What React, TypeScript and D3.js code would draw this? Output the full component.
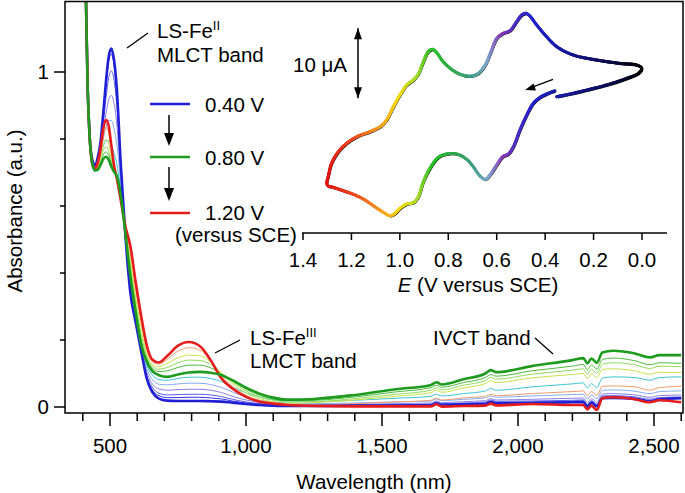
import React, { useEffect, useRef } from "react";
import * as d3 from "d3";

// ---------- Spectra data ----------
const wavelengths = [405, 412, 418, 425, 435, 445, 455, 465, 475, 485, 495, 505, 515, 525, 540, 555, 575, 595, 615, 635, 655, 680, 710, 750, 790, 830, 870, 910, 950, 1000, 1050, 1100, 1150, 1250, 1400, 1550, 1680, 1700, 1720, 1800, 1880, 1900, 1920, 2050, 2200, 2240, 2255, 2270, 2290, 2310, 2350, 2430, 2485, 2520, 2600];

const absB0 = [1.5, 1.2, 0.95, 0.81, 0.738, 0.722, 0.745, 0.79, 0.875, 0.97, 1.045, 1.07, 1.035, 0.95, 0.72, 0.53, 0.34, 0.25, 0.165, 0.085, 0.045, 0.025, 0.019, 0.018, 0.018, 0.018, 0.017, 0.016, 0.013, 0.009, 0.006, 0.004, 0.003, 0.003, 0.004, 0.004, 0.005, 0.011, 0.006, 0.008, 0.009, 0.015, 0.011, 0.012, 0.014, 0.015, 0.001, 0.013, 0.002, 0.026, 0.027, 0.024, 0.016, 0.022, 0.026];
const absB1 = [1.5, 1.2, 0.95, 0.81, 0.736, 0.72, 0.742, 0.785, 0.865, 0.955, 1.03, 1.053, 1.02, 0.935, 0.715, 0.53, 0.345, 0.252, 0.168, 0.09, 0.052, 0.034, 0.028, 0.028, 0.029, 0.029, 0.027, 0.024, 0.018, 0.012, 0.008, 0.005, 0.004, 0.004, 0.005, 0.006, 0.007, 0.013, 0.008, 0.01, 0.012, 0.018, 0.014, 0.015, 0.017, 0.018, 0.004, 0.016, 0.005, 0.03, 0.031, 0.027, 0.02, 0.026, 0.028];
const absB2 = [1.5, 1.2, 0.95, 0.81, 0.734, 0.718, 0.738, 0.775, 0.845, 0.92, 0.982, 1.003, 0.975, 0.9, 0.7, 0.53, 0.35, 0.256, 0.172, 0.096, 0.06, 0.041, 0.036, 0.037, 0.038, 0.038, 0.036, 0.031, 0.023, 0.015, 0.01, 0.007, 0.005, 0.005, 0.006, 0.007, 0.009, 0.015, 0.01, 0.012, 0.015, 0.021, 0.017, 0.018, 0.02, 0.021, 0.007, 0.019, 0.008, 0.033, 0.034, 0.03, 0.023, 0.028, 0.03];
const absB3 = [1.5, 1.2, 0.95, 0.81, 0.732, 0.716, 0.733, 0.765, 0.82, 0.875, 0.917, 0.93, 0.905, 0.845, 0.68, 0.53, 0.356, 0.26, 0.176, 0.105, 0.07, 0.054, 0.05, 0.052, 0.053, 0.053, 0.05, 0.043, 0.032, 0.021, 0.014, 0.01, 0.008, 0.007, 0.008, 0.01, 0.012, 0.018, 0.013, 0.016, 0.019, 0.025, 0.021, 0.023, 0.026, 0.027, 0.013, 0.025, 0.014, 0.039, 0.04, 0.036, 0.029, 0.034, 0.036];
const absB4 = [1.5, 1.2, 0.95, 0.81, 0.73, 0.714, 0.73, 0.758, 0.8, 0.835, 0.855, 0.855, 0.83, 0.785, 0.66, 0.53, 0.365, 0.266, 0.18, 0.115, 0.083, 0.068, 0.066, 0.069, 0.071, 0.071, 0.067, 0.058, 0.045, 0.03, 0.02, 0.015, 0.012, 0.01, 0.012, 0.015, 0.018, 0.024, 0.019, 0.023, 0.027, 0.033, 0.029, 0.033, 0.037, 0.038, 0.024, 0.036, 0.025, 0.05, 0.051, 0.047, 0.04, 0.046, 0.048];
const absB5 = [1.5, 1.2, 0.95, 0.81, 0.728, 0.71, 0.722, 0.748, 0.778, 0.795, 0.795, 0.782, 0.757, 0.725, 0.645, 0.53, 0.377, 0.272, 0.183, 0.125, 0.096, 0.082, 0.08, 0.085, 0.089, 0.089, 0.085, 0.076, 0.06, 0.042, 0.03, 0.022, 0.018, 0.016, 0.02, 0.026, 0.032, 0.038, 0.033, 0.04, 0.048, 0.055, 0.05, 0.06, 0.069, 0.072, 0.057, 0.07, 0.058, 0.086, 0.09, 0.088, 0.08, 0.088, 0.09];
const absG = [1.5, 1.2, 0.95, 0.81, 0.725, 0.706, 0.708, 0.722, 0.74, 0.747, 0.738, 0.718, 0.702, 0.69, 0.63, 0.53, 0.39, 0.28, 0.185, 0.135, 0.108, 0.095, 0.09, 0.097, 0.103, 0.105, 0.102, 0.095, 0.08, 0.058, 0.04, 0.028, 0.022, 0.024, 0.036, 0.053, 0.066, 0.074, 0.067, 0.083, 0.1, 0.11, 0.104, 0.122, 0.14, 0.146, 0.13, 0.145, 0.132, 0.163, 0.168, 0.16, 0.148, 0.155, 0.155];
const absG1 = [1.5, 1.2, 0.95, 0.81, 0.727, 0.708, 0.712, 0.73, 0.752, 0.762, 0.752, 0.728, 0.707, 0.69, 0.632, 0.533, 0.405, 0.295, 0.2, 0.145, 0.116, 0.106, 0.108, 0.118, 0.125, 0.125, 0.117, 0.1, 0.078, 0.053, 0.035, 0.024, 0.019, 0.02, 0.03, 0.045, 0.058, 0.065, 0.059, 0.073, 0.088, 0.097, 0.092, 0.108, 0.122, 0.127, 0.111, 0.126, 0.113, 0.142, 0.146, 0.138, 0.126, 0.132, 0.13];
const absG2 = [1.5, 1.2, 0.95, 0.81, 0.728, 0.71, 0.715, 0.738, 0.765, 0.777, 0.765, 0.737, 0.712, 0.69, 0.632, 0.536, 0.425, 0.31, 0.215, 0.152, 0.122, 0.113, 0.118, 0.132, 0.14, 0.139, 0.127, 0.101, 0.075, 0.048, 0.03, 0.02, 0.015, 0.016, 0.025, 0.038, 0.05, 0.057, 0.051, 0.065, 0.079, 0.088, 0.083, 0.098, 0.11, 0.114, 0.098, 0.113, 0.1, 0.128, 0.132, 0.126, 0.115, 0.122, 0.12];
const absG3 = [1.5, 1.2, 0.95, 0.81, 0.729, 0.712, 0.718, 0.745, 0.78, 0.8, 0.787, 0.75, 0.716, 0.69, 0.628, 0.54, 0.44, 0.325, 0.235, 0.16, 0.128, 0.12, 0.13, 0.147, 0.155, 0.153, 0.135, 0.1, 0.07, 0.042, 0.025, 0.015, 0.011, 0.013, 0.021, 0.032, 0.043, 0.05, 0.044, 0.057, 0.07, 0.078, 0.073, 0.087, 0.097, 0.1, 0.085, 0.099, 0.087, 0.112, 0.114, 0.108, 0.098, 0.104, 0.103];
const absO = [1.5, 1.2, 0.95, 0.81, 0.73, 0.713, 0.72, 0.752, 0.805, 0.835, 0.82, 0.77, 0.72, 0.685, 0.622, 0.542, 0.465, 0.35, 0.255, 0.172, 0.136, 0.128, 0.142, 0.167, 0.177, 0.17, 0.138, 0.092, 0.062, 0.035, 0.02, 0.012, 0.008, 0.006, 0.01, 0.015, 0.02, 0.026, 0.021, 0.027, 0.032, 0.038, 0.034, 0.04, 0.046, 0.048, 0.034, 0.046, 0.035, 0.062, 0.063, 0.06, 0.05, 0.058, 0.062];
const absR = [1.5, 1.2, 0.95, 0.81, 0.725, 0.71, 0.73, 0.77, 0.83, 0.857, 0.84, 0.78, 0.72, 0.683, 0.615, 0.545, 0.48, 0.37, 0.27, 0.185, 0.142, 0.133, 0.152, 0.183, 0.194, 0.182, 0.14, 0.085, 0.055, 0.03, 0.016, 0.01, 0.006, 0.003, 0.002, 0.002, 0.002, 0.008, 0.001, 0.003, 0.004, 0.01, 0.005, 0.009, 0.006, 0.006, -0.007, 0.004, -0.009, 0.026, 0.029, 0.023, 0.014, 0.02, 0.014];

const xTickValues = [500, 1000, 1500, 2000, 2500];
const xMinorValues = [400, 500, 600, 700, 800, 900, 1000, 1100, 1200, 1300, 1400, 1500, 1600, 1700, 1800, 1900, 2000, 2100, 2200, 2300, 2400, 2500, 2600];
const yTickValues = [0, 1];
const yMinorValues = [0, 0.2, 0.4, 0.6, 0.8, 1.0];

const legendLabels = ["0.40 V", "0.80 V", "1.20 V"];

// ---------- CV inset data ----------
const cvE = [0.359, 0.394, 0.421, 0.449, 0.476, 0.504, 0.531, 0.552, 0.575, 0.6, 0.628, 0.648, 0.669, 0.697, 0.724, 0.765, 0.807, 0.841, 0.876, 0.903, 0.924, 0.945, 0.972, 1.0, 1.02, 1.041, 1.068, 1.11, 1.151, 1.192, 1.234, 1.275, 1.296, 1.302, 1.296, 1.282, 1.254, 1.22, 1.178, 1.124, 1.082, 1.055, 1.027, 1.0, 0.972, 0.945, 0.924, 0.903, 0.883, 0.865, 0.848, 0.821, 0.779, 0.738, 0.703, 0.676, 0.648, 0.621, 0.6, 0.573, 0.545, 0.518, 0.497, 0.479, 0.463, 0.435, 0.394, 0.352, 0.284, 0.187, 0.091, 0.022, 0.001, 0.015, 0.063, 0.146, 0.228, 0.297, 0.352];
const cvI = [8.47, 8.0, 7.52, 6.67, 5.0, 2.86, 0.48, -0.57, -0.95, -2.14, -3.57, -4.19, -3.71, -2.38, -1.33, -0.57, -0.57, -1.05, -2.62, -4.52, -6.67, -7.52, -7.71, -8.33, -9.05, -9.38, -8.9, -7.95, -7.0, -6.33, -5.81, -5.33, -5.14, -4.76, -3.81, -1.9, -0.24, 0.95, 1.9, 2.62, 3.33, 4.29, 6.19, 7.86, 9.29, 10.0, 10.86, 12.62, 14.05, 14.38, 13.9, 12.62, 11.33, 10.67, 10.57, 10.95, 12.14, 14.29, 15.95, 16.67, 17.05, 18.33, 19.29, 19.52, 19.14, 17.86, 16.19, 14.76, 13.57, 12.86, 12.38, 12.14, 11.67, 10.95, 10.24, 9.29, 8.57, 8.0, 7.62];
const cvTickValues = [1.4, 1.2, 1.0, 0.8, 0.6, 0.4, 0.2, 0.0];
const cvColorStops = [0.0, 0.15, 0.35, 0.45, 0.52, 0.58, 0.64, 0.7, 0.78, 0.87, 0.93, 1.0, 1.08, 1.18, 1.3];
const cvColors = ["#000000", "#0d0d55", "#1a1aa8", "#2222cc", "#4a2ec0", "#8a3ab8", "#7fa8cc", "#40a08a", "#2ea84a", "#28c028", "#a8dc28", "#f2dc10", "#f4a020", "#ee5020", "#e21414"];

// ---------- styles ----------
const FONT = "'Liberation Sans', Arial, Helvetica, sans-serif";
const thinSeries = [
  { data: absB1, color: "#3333dd" },
  { data: absB2, color: "#5b5be8" },
  { data: absB3, color: "#8a7ee8" },
  { data: absB4, color: "#86aaf0" },
  { data: absB5, color: "#3cc6d6" },
  { data: absG1, color: "#4dbb3c" },
  { data: absG2, color: "#90dd5a" },
  { data: absG3, color: "#c9e24a" },
  { data: absO, color: "#f09a68" },
];
const thickSeries = [
  { data: absB0, color: "#1f1fd6" },
  { data: absR, color: "#e51c1c" },
  { data: absG, color: "#1e9a1e" },
];

const x = d3.scaleLinear().domain([500, 2500]).range([110, 654]);
const y = d3.scaleLinear().domain([0, 1]).range([407, 72]);
const PL = 65, PR = 683, PT = 1.5, PB = 413;

const eScale = d3.scaleLinear().domain([1.4, 0]).range([303, 642]);
const iScale = d3.scaleLinear().domain([0, 10]).range([150, 80]);
const cvColor = d3.scaleLinear<string>().domain(cvColorStops).range(cvColors).interpolate(d3.interpolateRgb).clamp(true);

const lineGen = d3
  .line<number>()
  .x((_, i) => x(wavelengths[i]))
  .y((d) => y(d))
  .curve(d3.curveMonotoneX);

function CVCurve() {
  const gRef = useRef<SVGGElement>(null);
  useEffect(() => {
    const g = d3.select(gRef.current);
    g.selectAll("*").remove();
    const pts = cvE.map((e, i) => [eScale(e), iScale(cvI[i])] as [number, number]);
    const d = d3.line().curve(d3.curveCatmullRom.alpha(0.5))(pts) as string;
    const shadow = g
      .append("path")
      .attr("d", d)
      .attr("fill", "none")
      .attr("stroke", "#000")
      .attr("stroke-width", 1.3)
      .attr("transform", "translate(0.9,1.2)");
    const node = shadow.node() as SVGPathElement;
    const L = node.getTotalLength();
    const step = 1;
    let prev = node.getPointAtLength(0);
    for (let s = step; s <= L + step; s += step) {
      const p = node.getPointAtLength(Math.min(s, L));
      g.append("line")
        .attr("x1", prev.x)
        .attr("y1", prev.y)
        .attr("x2", p.x)
        .attr("y2", p.y)
        .attr("stroke", cvColor(eScale.invert((prev.x + p.x) / 2)))
        .attr("stroke-width", 3)
        .attr("stroke-linecap", "round");
      prev = p;
    }
  }, []);
  return <g ref={gRef} />;
}

function DownArrow({ cx, y1, y2 }: { cx: number; y1: number; y2: number }) {
  const hh = 13;
  return (
    <g>
      <line x1={cx} y1={y1} x2={cx} y2={y2 - hh + 1} stroke="#000" strokeWidth={1.5} />
      <polygon points={`${cx - 5},${y2 - hh} ${cx + 5},${y2 - hh} ${cx},${y2}`} fill="#000" />
    </g>
  );
}

export default function App() {
  const fs = 20.5;
  const sup = 13;
  return (
    <svg
      width={685}
      height={493}
      style={{ position: "absolute", left: 0, top: 0, background: "#fff" }}
      fontFamily={FONT}
    >
      <defs>
        <clipPath id="plotClip">
          <rect x={PL} y={PT} width={PR - PL} height={PB - PT} />
        </clipPath>
      </defs>
      <rect x={0} y={0} width={685} height={493} fill="#fff" />

      {/* spectra */}
      <g clipPath="url(#plotClip)" fill="none">
        {thinSeries.map((s, i) => (
          <path key={"t" + i} d={lineGen(s.data) as string} stroke={s.color} strokeWidth={1} />
        ))}
        {thickSeries.map((s, i) => (
          <path key={"k" + i} d={lineGen(s.data) as string} stroke={s.color} strokeWidth={2.6} strokeLinejoin="round" />
        ))}
      </g>

      {/* frame */}
      <rect x={PL} y={PT} width={PR - PL} height={PB - PT} fill="none" stroke="#000" strokeWidth={1.5} />

      {/* x ticks */}
      {xMinorValues.map((v) => (
        <line key={"xm" + v} x1={x(v)} x2={x(v)} y1={PB} y2={PB + (xTickValues.includes(v) ? 13 : 8)} stroke="#000" strokeWidth={1.5} />
      ))}
      {xTickValues.map((v) => (
        <text key={"xl" + v} x={x(v)} y={453} textAnchor="middle" fontSize={fs}>
          {d3.format(",")(v)}
        </text>
      ))}
      <text x={374} y={489} textAnchor="middle" fontSize={fs}>
        Wavelength (nm)
      </text>

      {/* y ticks */}
      {yMinorValues.map((v) => (
        <line key={"ym" + v} x1={PL} x2={PL - (yTickValues.includes(v) ? 11 : 5)} y1={y(v)} y2={y(v)} stroke="#000" strokeWidth={1.5} />
      ))}
      {yTickValues.map((v) => (
        <text key={"yl" + v} x={49} y={y(v) + 7} textAnchor="end" fontSize={fs}>
          {v}
        </text>
      ))}
      <text transform="translate(21.5,211) rotate(-90)" textAnchor="middle" fontSize={fs}>
        Absorbance (a.u.)
      </text>

      {/* legend */}
      <line x1={150} x2={190} y1={104} y2={104} stroke="#1f1fd6" strokeWidth={2.6} />
      <text x={205} y={111.5} fontSize={fs}>{legendLabels[0]}</text>
      <DownArrow cx={169} y1={115} y2={146} />
      <line x1={150} x2={190} y1={157} y2={157} stroke="#1e9a1e" strokeWidth={2.6} />
      <text x={205} y={165} fontSize={fs}>{legendLabels[1]}</text>
      <DownArrow cx={169} y1={167} y2={201} />
      <line x1={150} x2={190} y1={213} y2={213} stroke="#e51c1c" strokeWidth={2.6} />
      <text x={205} y={220} fontSize={fs}>{legendLabels[2]}</text>
      <text x={175} y={242} fontSize={fs}>(versus SCE)</text>

      {/* annotations */}
      <line x1={127} y1={48} x2={148} y2={33} stroke="#000" strokeWidth={1.3} />
      <text x={157} y={38.3} fontSize={fs}>
        LS-Fe<tspan fontSize={sup} dy={-8}>II</tspan>
      </text>
      <text x={157} y={61.5} fontSize={fs}>MLCT band</text>

      <line x1={215} y1={353} x2={240} y2={340} stroke="#000" strokeWidth={1.3} />
      <text x={250} y={345} fontSize={fs}>
        LS-Fe<tspan fontSize={sup} dy={-8}>III</tspan>
      </text>
      <text x={250} y={368} fontSize={fs}>LMCT band</text>

      <line x1={535} y1={338} x2={553} y2={354} stroke="#000" strokeWidth={1.3} />
      <text x={433} y={345} fontSize={fs}>IVCT band</text>

      {/* CV inset */}
      <line x1={302} x2={667} y1={233} y2={233} stroke="#000" strokeWidth={1.5} />
      {cvTickValues.map((v) => (
        <line key={"ct" + v} x1={eScale(v)} x2={eScale(v)} y1={233} y2={240} stroke="#000" strokeWidth={1.5} />
      ))}
      {cvTickValues.map((v) => (
        <text key={"cl" + v} x={eScale(v)} y={267} textAnchor="middle" fontSize={fs}>
          {v.toFixed(1)}
        </text>
      ))}
      <text x={478} y={291.5} textAnchor="middle" fontSize={fs}>
        <tspan fontStyle="italic">E</tspan> (V versus SCE)
      </text>

      {/* scale bar */}
      <line x1={358} x2={358} y1={iScale(17.4)} y2={iScale(7.4)} stroke="#000" strokeWidth={1.5} />
      <polygon points={`${358 - 4},${iScale(17.4) + 11} ${358 + 4},${iScale(17.4) + 11} 358,${iScale(17.4)}`} fill="#000" />
      <polygon points={`${358 - 4},${iScale(7.4) - 11} ${358 + 4},${iScale(7.4) - 11} 358,${iScale(7.4)}`} fill="#000" />
      <text x={293} y={71.7} fontSize={fs}>10 μA</text>

      <CVCurve />

      {/* scan direction arrow */}
      <line x1={553} y1={79.3} x2={531} y2={87.7} stroke="#000" strokeWidth={1.3} />
      <polygon points="525,90 533.5,83.5 536,90.5" fill="#000" />
    </svg>
  );
}
